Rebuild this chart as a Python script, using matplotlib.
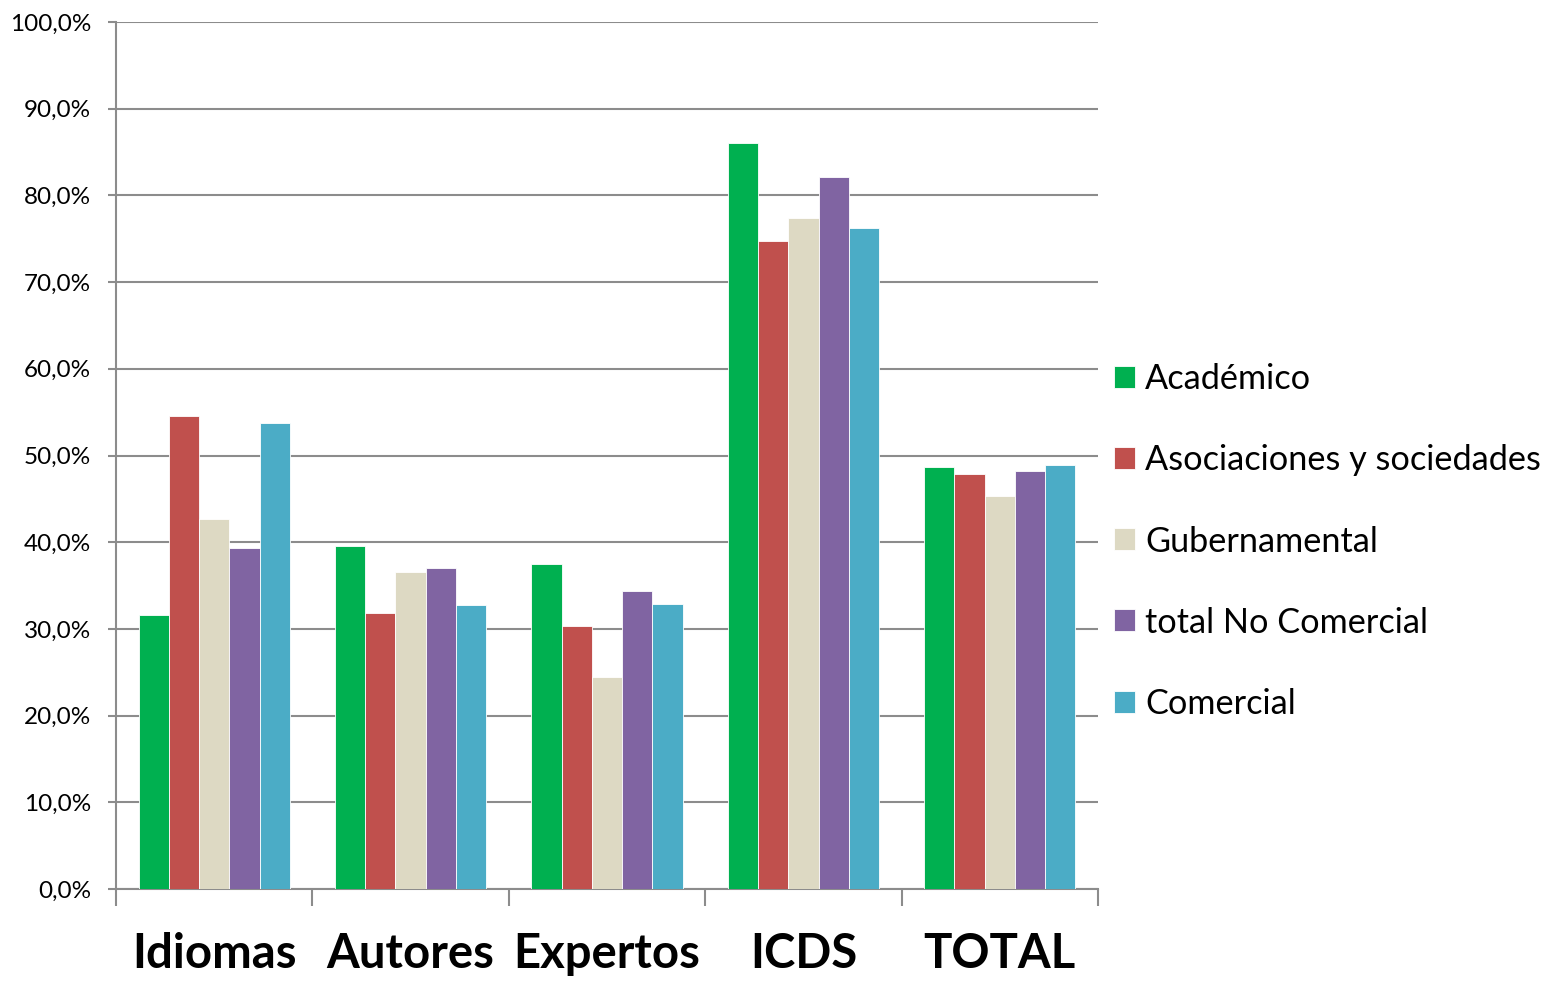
import matplotlib
matplotlib.use("Agg")
import matplotlib.pyplot as plt
import numpy as np
from matplotlib.ticker import FixedLocator, FuncFormatter

categories = ["Idiomas", "Autores", "Expertos", "ICDS", "TOTAL"]
series_names = ["Académico", "Asociaciones y sociedades", "Gubernamental",
                "total No Comercial", "Comercial"]
academico = [31.6, 39.6, 37.5, 86.1, 48.7]
asociaciones = [54.6, 31.8, 30.3, 74.7, 47.9]
gubernamental = [42.7, 36.6, 24.4, 77.4, 45.3]
no_comercial = [39.3, 37.0, 34.4, 82.1, 48.2]
comercial = [53.8, 32.8, 32.9, 76.2, 48.9]
colors = ["#00B050", "#C0504D", "#DDD9C3", "#8064A2", "#4BACC6"]

series = [academico, asociaciones, gubernamental, no_comercial, comercial]

plt.rcParams['font.family'] = ['Lato', 'DejaVu Sans']

fig = plt.figure(figsize=(15.45, 9.82), dpi=100)
ax = fig.add_axes([116/1545, 93/982, (1098-116)/1545, (889-22)/982])

x = np.arange(len(categories))
w = 0.154
for i, (vals, name, c) in enumerate(zip(series, series_names, colors)):
    ax.bar(x + (i - 2) * w, vals, width=w, color=c, label=name,
           edgecolor="white", linewidth=0.6, zorder=3)

ax.set_xlim(-0.5, len(categories) - 0.5)
ax.set_ylim(0, 100)
ax.set_yticks(np.arange(0, 101, 10))
ax.yaxis.set_major_formatter(FuncFormatter(lambda v, p: f"{v:.1f}%".replace(".", ",")))
ax.grid(axis="y", color="#8c8c8c", linewidth=1.5, zorder=0)
ax.set_axisbelow(True)

ax.set_xticks(x)
ax.set_xticklabels(categories, fontsize=34, fontweight="bold")
ax.xaxis.set_minor_locator(FixedLocator(np.arange(-0.5, len(categories), 1.0)))
ax.tick_params(axis="x", which="major", length=0, pad=31)
ax.tick_params(axis="x", which="minor", length=12, width=1.5, color="#8c8c8c")
ax.tick_params(axis="y", length=6, width=1.5, color="#8c8c8c", labelsize=17.5, pad=12)

for s in ["top", "right"]:
    ax.spines[s].set_visible(False)
for s in ["left", "bottom"]:
    ax.spines[s].set_color("#8c8c8c")
    ax.spines[s].set_linewidth(1.5)

leg = fig.legend(loc="center left", bbox_to_anchor=(1100/1545, 1 - 541.5/982),
                 frameon=False, fontsize=24.7, handlelength=0.61, handleheight=0.61,
                 handletextpad=0.3, labelspacing=1.43, borderaxespad=0)

fig.savefig("out.png", dpi=100)
